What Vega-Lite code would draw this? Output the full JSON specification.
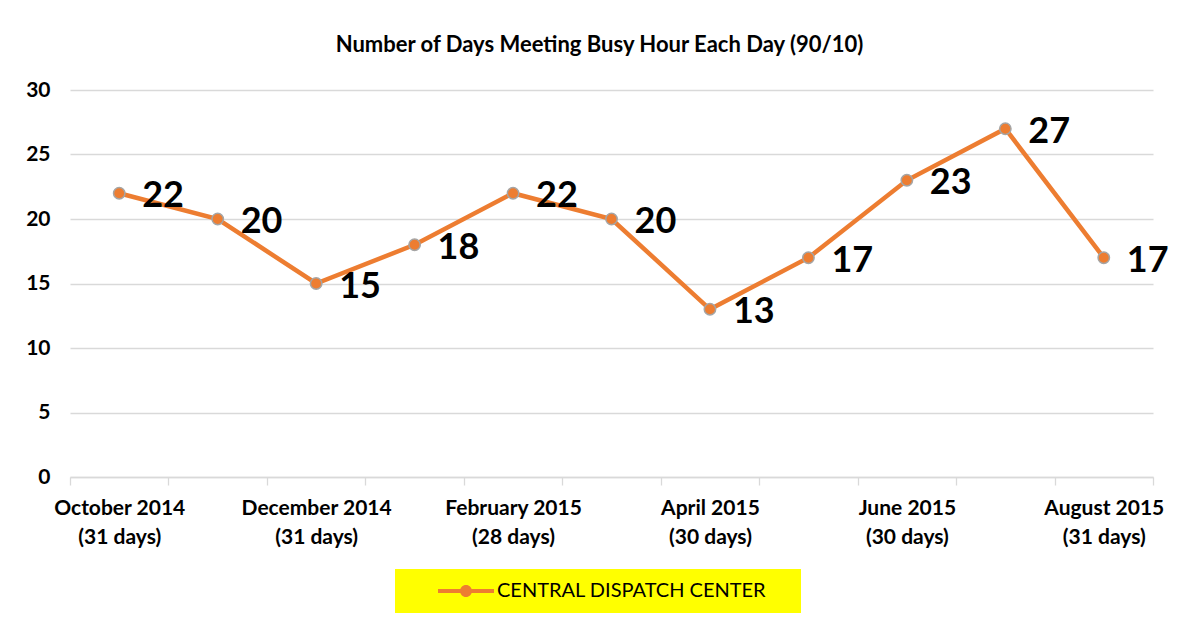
{
  "$schema": "https://vega.github.io/schema/vega-lite/v6.json",
  "width": 1083,
  "height": 387,
  "autosize": {"type": "none"},
  "padding": {"left": 70, "top": 90, "right": 28, "bottom": 147},
  "background": "white",
  "title": {
    "text": "Number of Days Meeting Busy Hour Each Day (90/10)",
    "font": "Lato",
    "fontSize": 22,
    "fontWeight": "bold",
    "color": "#000000",
    "anchor": "middle",
    "baseline": "alphabetic",
    "offset": 5,
    "dx": -12
  },
  "data": {
    "values": [
      {"month": "October 2014|(31 days)", "days": 22, "series": "CENTRAL DISPATCH CENTER"},
      {"month": "November 2014|(30 days)", "days": 20, "series": "CENTRAL DISPATCH CENTER"},
      {"month": "December 2014|(31 days)", "days": 15, "series": "CENTRAL DISPATCH CENTER"},
      {"month": "January 2015|(31 days)", "days": 18, "series": "CENTRAL DISPATCH CENTER"},
      {"month": "February 2015|(28 days)", "days": 22, "series": "CENTRAL DISPATCH CENTER"},
      {"month": "March 2015|(31 days)", "days": 20, "series": "CENTRAL DISPATCH CENTER"},
      {"month": "April 2015|(30 days)", "days": 13, "series": "CENTRAL DISPATCH CENTER"},
      {"month": "May 2015|(31 days)", "days": 17, "series": "CENTRAL DISPATCH CENTER"},
      {"month": "June 2015|(30 days)", "days": 23, "series": "CENTRAL DISPATCH CENTER"},
      {"month": "July 2015|(31 days)", "days": 27, "series": "CENTRAL DISPATCH CENTER"},
      {"month": "August 2015|(31 days)", "days": 17, "series": "CENTRAL DISPATCH CENTER"}
    ]
  },
  "encoding": {
    "x": {
      "field": "month",
      "type": "ordinal",
      "sort": null,
      "scale": {"type": "band", "paddingInner": 0, "paddingOuter": 0},
      "axis": {
        "title": null,
        "labelAngle": 0,
        "labelExpr": "!isString(datum.value) ? '' : (indexof(['November','January','March','May','July'], split(datum.value, ' ')[0]) >= 0 ? '' : split(datum.value, '|'))",
        "labelFont": "Lato",
        "labelFontSize": 21,
        "labelFontWeight": "bold",
        "labelColor": "#000000",
        "labelBaseline": "top",
        "labelLineHeight": 29,
        "labelPadding": 12,
        "tickBand": "extent",
        "tickSize": 8,
        "tickColor": "#D9D9D9",
        "tickWidth": 1.3,
        "domainColor": "#D9D9D9",
        "domainWidth": 1.3,
        "labelOverlap": false,
        "labelBound": false,
        "grid": false
      }
    },
    "y": {
      "field": "days",
      "type": "quantitative",
      "scale": {"domain": [0, 30]},
      "axis": {
        "title": null,
        "values": [0, 5, 10, 15, 20, 25, 30],
        "labelFont": "Lato",
        "labelFontSize": 21,
        "labelFontWeight": "bold",
        "labelColor": "#000000",
        "labelPadding": 20,
        "ticks": false,
        "domain": false,
        "gridColor": "#D9D9D9",
        "gridWidth": 1.3
      }
    }
  },
  "layer": [
    {
      "mark": {"type": "line", "strokeWidth": 4.5},
      "encoding": {
        "color": {
          "field": "series",
          "type": "nominal",
          "scale": {"range": ["#ED7D31"]},
          "legend": {
            "orient": "none",
            "legendX": 325,
            "legendY": 479,
            "title": " ",
            "titleOrient": "right",
            "titlePadding": 23,
            "titleFontSize": 10,
            "fillColor": "#FFFF00",
            "padding": 12,
            "symbolOffset": 49,
            "symbolType": "M-3.5,-0.25L3.5,-0.25L3.5,0.25L-3.5,0.25Z M-0.75,0A0.75,0.75 0 1,1 0.75,0A0.75,0.75 0 1,1 -0.75,0Z",
            "symbolSize": 256,
            "symbolFillColor": "#ED7D31",
            "symbolStrokeColor": "#ED7D31",
            "symbolStrokeWidth": 0,
            "labelOffset": 21,
            "labelLimit": 500,
            "labelFont": "Lato",
            "labelFontSize": 20,
            "labelColor": "#000000"
          }
        }
      }
    },
    {
      "mark": {"type": "point", "filled": true, "size": 130, "color": "#ED7D31", "stroke": "#A5A5A5", "strokeWidth": 1.5, "opacity": 1}
    },
    {
      "mark": {"type": "text", "align": "left", "baseline": "middle", "dx": 23, "dy": 3, "font": "Lato", "fontSize": 36, "fontWeight": "bold", "color": "#000000"},
      "encoding": {"text": {"field": "days", "type": "quantitative"}}
    }
  ],
  "config": {
    "view": {"stroke": null}
  }
}
